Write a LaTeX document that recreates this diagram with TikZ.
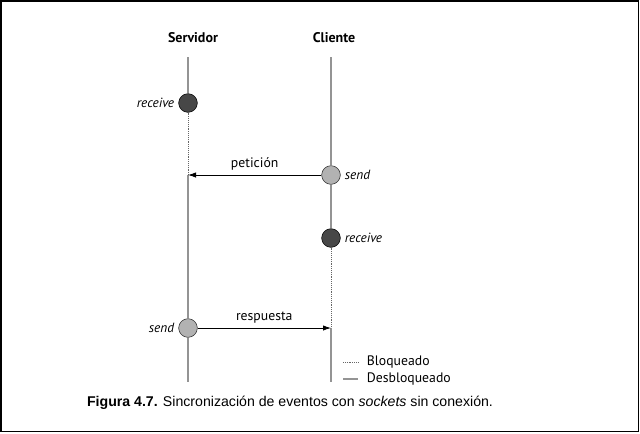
\documentclass[tikz,border=0pt]{standalone}
\usepackage{fontspec}
\setmainfont{PT Sans}
\newfontfamily\capfont{Liberation Sans}
\usetikzlibrary{positioning,arrows.meta}

\begin{document}
\begin{tikzpicture}[x=0.75pt,y=-0.75pt,
  vida/.style={draw=black!42,line width=1.5pt},
  bloq/.style={draw=black!60,densely dotted,line width=0.4pt},
  evrecv/.style={circle,draw=black,fill=black!72,minimum size=14pt,inner sep=0pt,line width=0.4pt},
  evsend/.style={circle,draw=black!85,fill=black!30,minimum size=14pt,inner sep=0pt,line width=0.4pt},
  msg/.style={-{Latex[length=6pt,width=4pt]},line width=0.6pt},
  etiq/.style={font=\fontsize{10}{12}\selectfont\itshape,inner sep=2pt},
  texto/.style={font=\fontsize{10.3}{12}\selectfont,inner sep=2pt}]

% Frame and size of the picture.
\useasboundingbox (0,0) rectangle (640,433);
\draw[line width=1.2pt] (1,1) rectangle (638.5,431.5);

% Column heads.
\node[texto,font=\fontsize{10.5}{12}\selectfont\bfseries] (servidor) at (193,38) {Servidor};
\node[texto,font=\fontsize{10.5}{12}\selectfont\bfseries] (cliente) at (334,38) {Cliente};

% Ends of the two life lines, and the points where the messages arrive.
\coordinate (stop) at (188,57);
\coordinate (sbot) at (188,382);
\coordinate (sllega) at (188,175);
\coordinate (ctop) at (331,57);
\coordinate (cbot) at (331,382);
\coordinate (cllega) at (331,328);

% Events.
\node[evrecv] (srecv) at (188,103) {};
\node[evsend] (csend) at (331,175) {};
\node[evrecv] (crecv) at (331,238) {};
\node[evsend] (ssend) at (188,328) {};

% Servidor: running, blocked in receive, running again.
\draw[vida] (stop) -- (srecv.north);
\draw[bloq] (srecv.south) -- (sllega);
\draw[vida] (sllega) -- (ssend.north);
\draw[vida] (ssend.south) -- (sbot);

% Cliente: running until receive, then blocked until the answer.
\draw[vida] (ctop) -- (csend.north);
\draw[vida] (csend.south) -- (crecv.north);
\draw[bloq] (crecv.south) -- (cllega);
\draw[vida] (cllega) -- (cbot);

% Messages.
\draw[msg] (csend.west) -- node[texto,above=1pt] (peticion) {petición} (sllega);
\draw[msg] (ssend.east) -- node[texto,above=1pt] (respuesta) {respuesta} (cllega);

% Event names.
\node[etiq,left=1pt of srecv] (srecvtxt) {receive};
\node[etiq,right=1pt of csend] (csendtxt) {send};
\node[etiq,right=1pt of crecv] (crecvtxt) {receive};
\node[etiq,left=1pt of ssend] (ssendtxt) {send};

% Legend.
\coordinate (lbq1) at (343,362);
\coordinate (lbq2) at (358,362);
\coordinate (lds1) at (343,379);
\coordinate (lds2) at (358,379);
\draw[bloq] (lbq1) -- (lbq2);
\draw[vida] (lds1) -- (lds2);
\node[texto,anchor=west] (bloqueado) at (364,362) {Bloqueado};
\node[texto,anchor=west] (desbloqueado) at (364,379) {Desbloqueado};

% Caption.
\node[font=\capfont\fontsize{10.6}{12}\selectfont,inner sep=0pt] (pie) at (290,403)
  {\textbf{Figura 4.7.} Sincronización de eventos con \textit{sockets} sin conexión.};

\end{tikzpicture}
\end{document}
